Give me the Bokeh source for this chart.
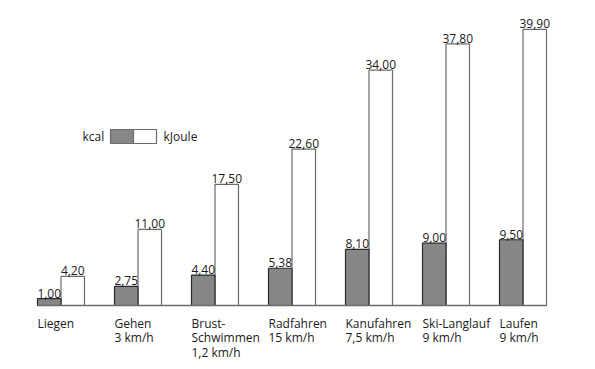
from bokeh.plotting import figure
from bokeh.models import ColumnDataSource
from bokeh.embed import file_html
from bokeh.resources import INLINE
from bokeh.core.properties import value

categories = ["Liegen", "Gehen\n3 km/h", "Brust-\nSchwimmen\n1,2 km/h", "Radfahren\n15 km/h",
              "Kanufahren\n7,5 km/h", "Ski-Langlauf\n9 km/h", "Laufen\n9 km/h"]
kcal = [1.00, 2.75, 4.40, 5.38, 8.10, 9.00, 9.50]
kjoule = [4.20, 11.00, 17.50, 22.60, 34.00, 37.80, 39.90]

W, H = 587, 360
px_per_group = 77.0
bar_w = 23.5 / px_per_group
px_per_unit = 6.92
x0_px = 60.5   # x of first group centre
base_px = 305.0  # y of baseline

x_start = -x0_px / px_per_group
x_end = (W - x0_px) / px_per_group
y_end = base_px / px_per_unit
y_start = -(H - base_px) / px_per_unit

def fx(px):
    return x_start + px / px_per_group

def fy(py):
    return (base_px - py) / px_per_unit

FONT = "Open Sans"
FS = "12px"
TC = "#1a1a1a"

p = figure(width=W, height=H, output_backend="svg", toolbar_location=None,
           x_range=(x_start, x_end), y_range=(y_start, y_end),
           min_border=0, min_border_left=0, min_border_right=0,
           min_border_top=0, min_border_bottom=0)
p.axis.visible = False
p.grid.visible = False
p.outline_line_color = None
p.background_fill_color = "white"
p.border_fill_color = "white"

idx = list(range(len(categories)))
kc_x = [i - bar_w / 2 for i in idx]
kj_x = [i + bar_w / 2 for i in idx]

src = ColumnDataSource(dict(
    kc_x=kc_x, kj_x=kj_x, kcal=kcal, kjoule=kjoule,
    kc_lab=[f"{v:.2f}".replace(".", ",") for v in kcal],
    kj_lab=[f"{v:.2f}".replace(".", ",") for v in kjoule],
    cat_x=[i - bar_w for i in idx], cat=categories,
))

p.vbar(x="kj_x", top="kjoule", bottom=0, width=bar_w, source=src,
       fill_color="white", line_color="#6b6b6b", line_width=1.2)
p.vbar(x="kc_x", top="kcal", bottom=0, width=bar_w, source=src,
       fill_color="#878787", line_color="#2a2a2a", line_width=1.2)

p.segment(x0=[idx[0] - bar_w], x1=[idx[-1] + bar_w], y0=[0], y1=[0],
          line_color="#6b6b6b", line_width=1.5)

p.text(x="kc_x", y="kcal", text="kc_lab", source=src, text_align="center",
       text_baseline="bottom", y_offset=-1, text_font=value(FONT),
       text_font_size=FS, text_color=TC)
p.text(x="kj_x", y="kjoule", text="kj_lab", source=src, text_align="center",
       text_baseline="bottom", y_offset=-1, text_font=value(FONT),
       text_font_size=FS, text_color=TC)

p.text(x="cat_x", y=0, text="cat", source=src, text_align="left",
       text_baseline="top", y_offset=9, text_font=value(FONT),
       text_font_size=FS, text_color=TC, text_line_height=0.86)

# legend (manual)
p.text(x=[fx(82)], y=[fy(136)], text=["kcal"], text_align="left", text_baseline="middle",
       text_font=value(FONT), text_font_size=FS, text_color=TC)
p.quad(left=[fx(110)], right=[fx(133)], top=[fy(129)], bottom=[fy(143)],
       fill_color="#878787", line_color="#6b6b6b", line_width=1.2)
p.quad(left=[fx(133)], right=[fx(156)], top=[fy(129)], bottom=[fy(143)],
       fill_color="white", line_color="#6b6b6b", line_width=1.2)
p.text(x=[fx(163)], y=[fy(136)], text=["kJoule"], text_align="left", text_baseline="middle",
       text_font=value(FONT), text_font_size=FS, text_color=TC)

open("out.html", "w").write(file_html(p, INLINE))
